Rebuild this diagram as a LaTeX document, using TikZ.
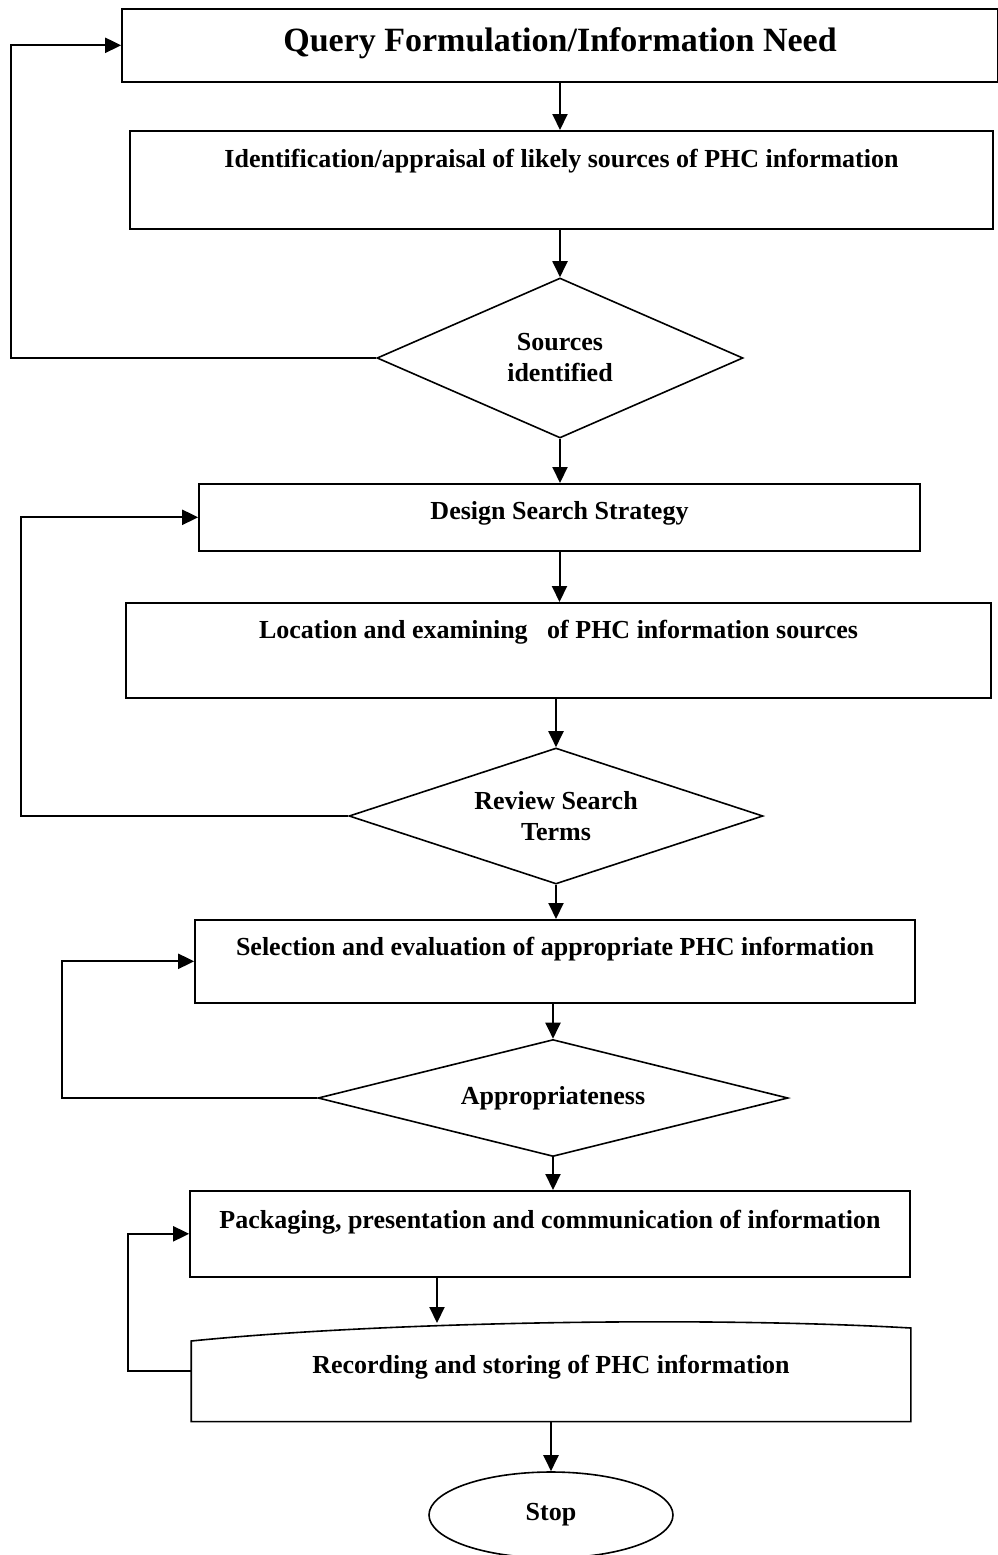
\documentclass[tikz,border=0pt]{standalone}
\usepackage{fontspec}
\setmainfont{Liberation Serif}
\usetikzlibrary{arrows.meta,shapes.geometric}

\begin{document}
\begin{tikzpicture}[x=1pt, y=-1pt,
    box/.style={draw, line width=1.6pt, anchor=north, inner sep=0pt,
                align=center, font=\fontsize{26}{31}\selectfont\bfseries},
    decision/.style={draw, diamond, line width=1.6pt, inner sep=0pt,
                align=center, font=\fontsize{26}{31}\selectfont\bfseries},
    terminal/.style={draw, ellipse, line width=1.6pt, inner sep=0pt,
                font=\fontsize{26}{31}\selectfont\bfseries},
    flow/.style={-{Triangle[length=16pt,width=15pt]}, line width=2pt}
]
\useasboundingbox (0,0) rectangle (998,1555);

\node[box, minimum width=876pt, text height=43pt, text depth=30pt,
      font=\fontsize{34}{40}\selectfont\bfseries] (query) at (560,8)
      {Query Formulation/Information Need};
\node[box, minimum width=863pt, text height=37pt, text depth=61pt] (ident) at (561.5,130)
      {Identification/appraisal of likely sources of PHC information};
\node[decision, aspect=2.3, minimum width=366pt, minimum height=160pt] (found) at (560,358)
      {Sources\\identified};
\node[box, minimum width=721pt, text height=36pt, text depth=31pt] (design) at (559.5,483)
      {Design Search Strategy};
\node[box, minimum width=865pt, text height=36pt, text depth=59pt] (locate) at (558.5,602)
      {Location and examining \ \ of PHC information sources};
\node[decision, aspect=3, minimum width=414pt, minimum height=136pt] (review) at (556,816)
      {Review Search\\Terms};
\node[box, minimum width=720pt, text height=36pt, text depth=47pt] (select) at (555,919)
      {Selection and evaluation of appropriate PHC information};
\node[decision, aspect=4, minimum width=470pt, minimum height=117pt] (approp) at (553,1098)
      {Appropriateness};
\node[box, minimum width=720pt, text height=38pt, text depth=48pt] (pack) at (550,1190)
      {Packaging, presentation and communication of information};
\node[box, draw=none, minimum width=718pt, text height=52pt, text depth=47pt] (record) at (551,1321)
      {Recording and storing of PHC information};
\node[terminal, minimum width=244pt, minimum height=86pt] (stop) at (551,1515) {Stop};

\draw[line width=1.6pt] (record.south west) -- ([yshift=-20pt]record.north west)
    .. controls ([xshift=188pt,yshift=-1pt]record.north west)
    and ([xshift=-210pt,yshift=5pt]record.north east) .. ([yshift=-7pt]record.north east)
    -- (record.south east) -- cycle;

\draw[flow] (query.south) -- (query.south |- ident.north);
\draw[flow] (found.north |- ident.south) -- (found.north);
\draw[flow] (found.south) -- (found.south |- design.north);
\draw[flow] (design.south) -- (design.south |- locate.north);
\draw[flow] (review.north |- locate.south) -- (review.north);
\draw[flow] (review.south) -- (review.south |- select.north);
\draw[flow] (select.south -| approp.north) -- (approp.north);
\draw[flow] (approp.south) -- (approp.south |- pack.north);
\draw[flow] ([xshift=-113pt]pack.south) -- ([xshift=-113pt,yshift=-2pt]pack.south |- record.north);
\draw[flow] (record.south) -- (stop.north);

\draw[flow] (found.west) -- ++(-365,0) |- (query.west);
\draw[flow] (review.west) -- ++(-327,0) |- (design.west);
\draw[flow] (approp.west) -- ++(-255,0) |- (select.west);
\draw[flow] (record.west) -- ++(-63,0) |- (pack.west);

\end{tikzpicture}
\end{document}
